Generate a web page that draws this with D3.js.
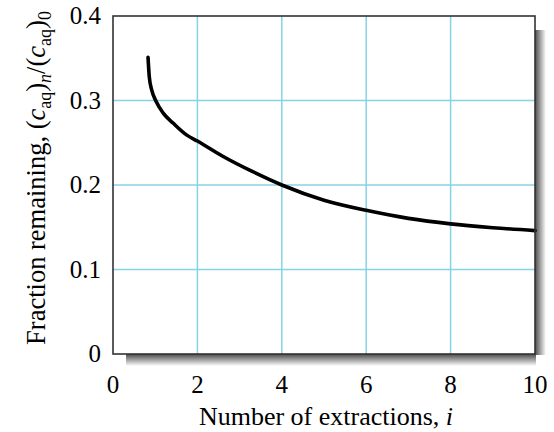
<!DOCTYPE html>
<html>
<head>
<meta charset="utf-8">
<script src="https://cdn.jsdelivr.net/npm/d3@7"></script>
<style>
    body { margin: 0; background: #fff; }
    svg { display: block; }
    text { font-family: "Liberation Serif", "DejaVu Serif", serif; fill: #000; }
</style>
</head>
<body>
<svg id="chart"></svg>
<script>
// Values
const extractions = [0.83, 0.86, 0.92, 1.02, 1.19, 1.43, 1.75, 2.0, 2.6, 3.3, 4.0, 5.0, 6.0, 7.0, 8.0, 9.0, 10.0];
const fractionRemaining = [0.351, 0.328, 0.312, 0.299, 0.285, 0.273, 0.259, 0.252, 0.234, 0.216, 0.200, 0.182, 0.170, 0.1605, 0.154, 0.1495, 0.146];
const xTicks = [0, 2, 4, 6, 8, 10];
const yTicks = [0, 0.1, 0.2, 0.3, 0.4];
const yTickLabels = ['0', '0.1', '0.2', '0.3', '0.4'];

const width = 554, height = 432;
const margin = { top: 16, right: 19, bottom: 78, left: 113 };
const innerW = width - margin.left - margin.right;
const innerH = height - margin.top - margin.bottom;

const svg = d3.select('#chart')
    .attr('width', width)
    .attr('height', height);

const defs = svg.append('defs');

// Shadow gradients (right and bottom edges)
const gRight = defs.append('linearGradient').attr('id', 'shadowRight')
    .attr('x1', '0%').attr('x2', '100%').attr('y1', '0%').attr('y2', '0%');
gRight.append('stop').attr('offset', '0%').attr('stop-color', '#4a4a4a');
gRight.append('stop').attr('offset', '100%').attr('stop-color', '#ffffff');

const gBottom = defs.append('linearGradient').attr('id', 'shadowBottom')
    .attr('x1', '0%').attr('x2', '0%').attr('y1', '0%').attr('y2', '100%');
gBottom.append('stop').attr('offset', '0%').attr('stop-color', '#4a4a4a');
gBottom.append('stop').attr('offset', '100%').attr('stop-color', '#ffffff');

const g = svg.append('g').attr('transform', `translate(${margin.left},${margin.top})`);

// Drop shadow
g.append('rect')
    .attr('x', innerW).attr('y', 14)
    .attr('width', 11).attr('height', innerH - 14 + 1)
    .attr('fill', 'url(#shadowRight)');
g.append('rect')
    .attr('x', 13).attr('y', innerH)
    .attr('width', innerW - 13 + 1).attr('height', 12)
    .attr('fill', 'url(#shadowBottom)');

g.append('rect')
    .attr('width', innerW).attr('height', innerH)
    .attr('fill', '#fff');

const x = d3.scaleLinear().domain([0, 10]).range([0, innerW]);
const y = d3.scaleLinear().domain([0, 0.4]).range([innerH, 0]);

// Grid lines
g.append('g')
    .selectAll('line')
    .data(xTicks.slice(1, -1))
    .enter()
    .append('line')
    .attr('x1', d => x(d)).attr('x2', d => x(d))
    .attr('y1', 0).attr('y2', innerH)
    .attr('stroke', '#86d3e6')
    .attr('stroke-width', 1.5);

g.append('g')
    .selectAll('line')
    .data(yTicks.slice(1, -1))
    .enter()
    .append('line')
    .attr('x1', 0).attr('x2', innerW)
    .attr('y1', d => y(d)).attr('y2', d => y(d))
    .attr('stroke', '#86d3e6')
    .attr('stroke-width', 1.5);

// Curve
const line = d3.line()
    .x((d, i) => x(extractions[i]))
    .y(d => y(d))
    .curve(d3.curveMonotoneX);

g.append('path')
    .datum(fractionRemaining)
    .attr('d', line)
    .attr('fill', 'none')
    .attr('stroke', '#000')
    .attr('stroke-width', 3.6)
    .attr('stroke-linecap', 'round');

// Frame
g.append('rect')
    .attr('width', innerW).attr('height', innerH)
    .attr('fill', 'none')
    .attr('stroke', '#333')
    .attr('stroke-width', 1.6);

// Tick labels
g.append('g')
    .selectAll('text')
    .data(xTicks)
    .enter()
    .append('text')
    .attr('x', d => x(d))
    .attr('y', innerH + 39)
    .attr('text-anchor', 'middle')
    .attr('font-size', '25px')
    .text(d => d);

g.append('g')
    .selectAll('text')
    .data(yTicks)
    .enter()
    .append('text')
    .attr('x', -12)
    .attr('y', d => y(d) + 8)
    .attr('text-anchor', 'end')
    .attr('font-size', '25px')
    .text((d, i) => yTickLabels[i]);

// Axis titles
svg.append('text')
    .attr('x', 326)
    .attr('y', 425)
    .attr('text-anchor', 'middle')
    .attr('font-size', '26px')
    .call(t => {
        t.append('tspan').text('Number of extractions, ');
        t.append('tspan').attr('font-style', 'italic').text('i');
    });

const yTitle = svg.append('text')
    .attr('transform', `translate(45,178) rotate(-90)`)
    .attr('text-anchor', 'middle')
    .attr('font-size', '26.5px');
yTitle.append('tspan').text('Fraction remaining, (');
yTitle.append('tspan').attr('font-style', 'italic').text('c');
yTitle.append('tspan').attr('font-size', '18px').attr('dy', 6).text('aq');
yTitle.append('tspan').attr('dy', -6).text(')');
yTitle.append('tspan').attr('font-size', '18px').attr('font-style', 'italic').attr('dy', 6).text('n');
yTitle.append('tspan').attr('dy', -6).text('/(');
yTitle.append('tspan').attr('font-style', 'italic').text('c');
yTitle.append('tspan').attr('font-size', '18px').attr('dy', 6).text('aq');
yTitle.append('tspan').attr('dy', -6).text(')');
yTitle.append('tspan').attr('font-size', '18px').attr('dy', 6).text('0');
</script>
</body>
</html>
